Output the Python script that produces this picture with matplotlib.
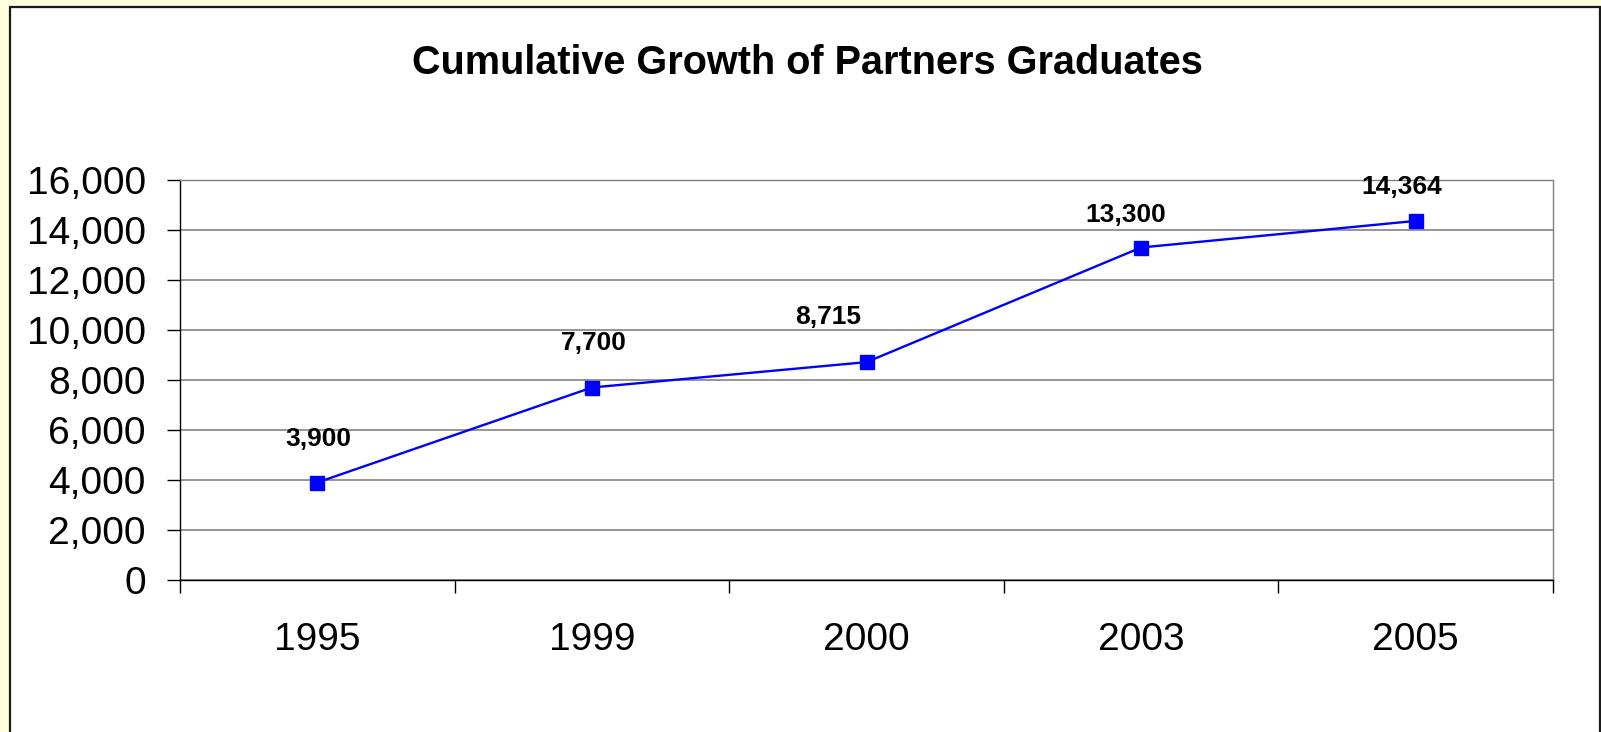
import matplotlib
matplotlib.use("Agg")
import matplotlib.pyplot as plt
from matplotlib.patches import Rectangle
from matplotlib.ticker import FuncFormatter, MultipleLocator

plt.rcParams["font.family"] = ["Liberation Sans", "DejaVu Sans"]

# data
years = ["1995", "1999", "2000", "2003", "2005"]
graduates = [3900, 7700, 8715, 13300, 14364]

# hand-placed label nudges (pixels), as in the original chart
label_dx = [1, 2, -38, -15, -14]
label_dy = [44, 45, 45, 33, 34]

W, H, DPI = 1601, 732, 100
fig = plt.figure(figsize=(W / DPI, H / DPI), dpi=DPI, facecolor="#FFFFE0")

# white chart area with a dark border, behind the axes
fig.patches.append(Rectangle((9.5 / W, -0.02), (1600 - 9.5) / W, (H - 6.5) / H + 0.02,
                             transform=fig.transFigure, facecolor="white",
                             edgecolor="#1a1a1a", lw=1.6, zorder=-5))

ax = fig.add_axes([180 / W, 1 - 580 / H, (1553 - 180) / W, 400 / H])
ax.set_facecolor("white")

x = list(range(len(years)))
ax.plot(x, graduates, color="#0000FF", lw=1.7, marker="s", markersize=10,
        markeredgecolor="#0000FF", zorder=3, clip_on=False)

for xi, yi, dx, dy in zip(x, graduates, label_dx, label_dy):
    ax.annotate(f"{yi:,}", (xi, yi), xytext=(dx, dy), textcoords="offset pixels",
                ha="center", va="center", fontsize=19, fontweight="bold",
                color="black", zorder=4)

ax.set_xlim(-0.5, len(years) - 0.5)
ax.set_ylim(0, 16000)

ax.yaxis.set_major_locator(MultipleLocator(2000))
ax.yaxis.set_major_formatter(FuncFormatter(lambda v, p: f"{int(v):,}"))
ax.grid(axis="y", color="#787878", lw=1.1, zorder=1)
ax.set_axisbelow(True)

# category boundaries carry the tick marks, labels sit at the centres
ax.set_xticks([i - 0.5 for i in range(len(years) + 1)])
ax.set_xticklabels([])
ax.set_xticks(x, minor=True)
ax.set_xticklabels(years, minor=True)
ax.tick_params(axis="x", which="major", direction="out", length=9, width=1, color="black")
ax.tick_params(axis="x", which="minor", length=0, pad=30, labelsize=28)
ax.tick_params(axis="y", direction="out", length=9.5, width=1, color="black",
               pad=15, labelsize=28)

for side in ("left", "bottom"):
    ax.spines[side].set_color("black")
    ax.spines[side].set_linewidth(1.0)
for side in ("top", "right"):
    ax.spines[side].set_color("#808080")
    ax.spines[side].set_linewidth(1.0)

fig.text(807 / W, 1 - 74 / H, "Cumulative Growth of Partners Graduates",
         ha="center", va="baseline", fontsize=28.5, fontweight="bold")

fig.savefig("out.png", dpi=DPI, facecolor=fig.get_facecolor())
